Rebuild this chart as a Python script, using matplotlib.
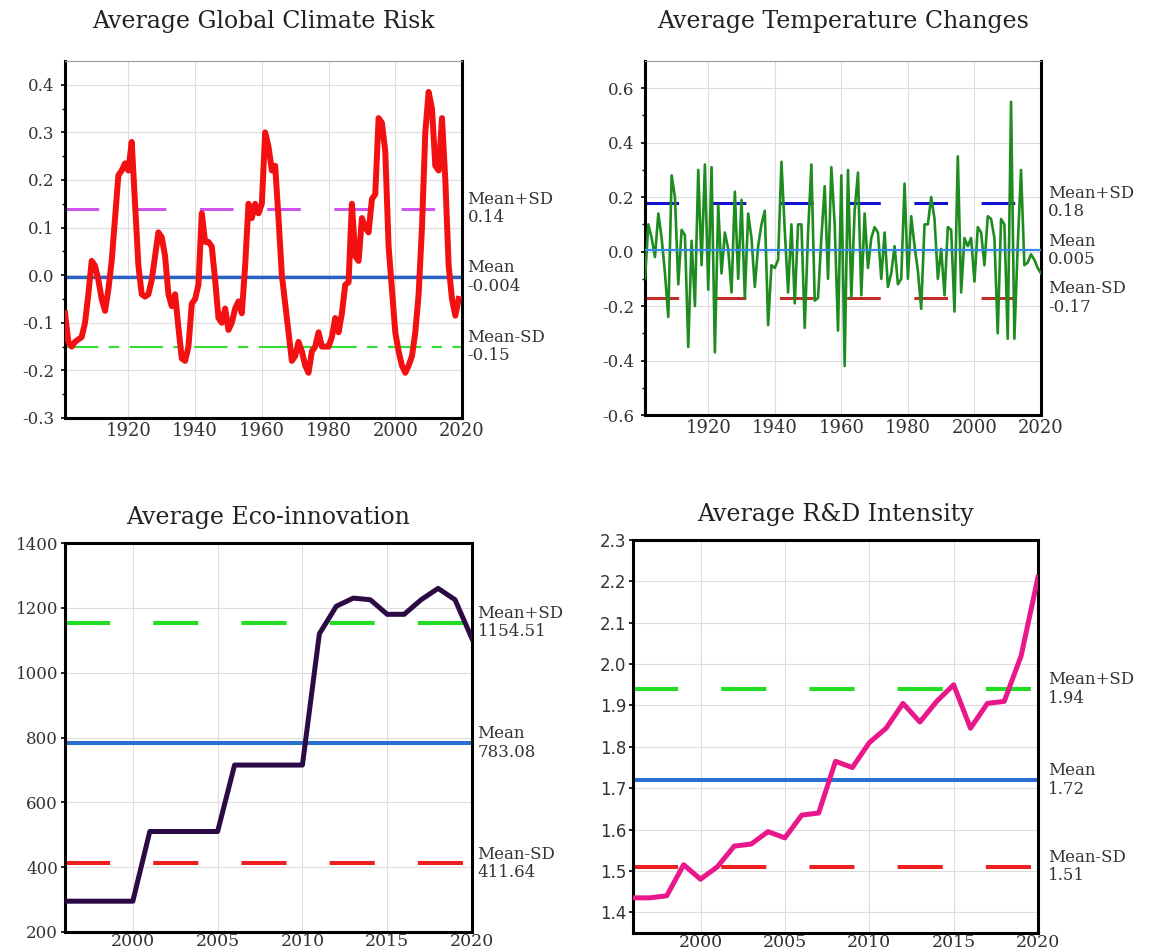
import numpy as np
import matplotlib
matplotlib.use("Agg")
import matplotlib.pyplot as plt

plt.rcParams["font.family"] = "DejaVu Serif"
plt.rcParams["axes.unicode_minus"] = False

# Average global climate risk, 1901-2019
risk_start = 1901
risk = [
    -0.08, -0.14, -0.15, -0.14, -0.135, -0.13, -0.10, -0.04, 0.03, 0.02,
    -0.01, -0.05, -0.075, -0.03, 0.03, 0.12, 0.21, 0.22, 0.235, 0.22,
    0.28, 0.15, 0.02, -0.04, -0.045, -0.04, -0.01, 0.04, 0.09, 0.08,
    0.04, -0.04, -0.065, -0.04, -0.11, -0.175, -0.18, -0.15, -0.06, -0.05,
    -0.02, 0.13, 0.07, 0.07, 0.06, -0.01, -0.09, -0.10, -0.07, -0.115,
    -0.10, -0.07, -0.055, -0.08, 0.02, 0.15, 0.12, 0.15, 0.13, 0.15,
    0.30, 0.27, 0.22, 0.23, 0.12, 0.0, -0.06, -0.12, -0.18, -0.17,
    -0.14, -0.16, -0.19, -0.205, -0.16, -0.15, -0.12, -0.15, -0.15, -0.15,
    -0.13, -0.09, -0.12, -0.08, -0.02, -0.015, 0.15, 0.04, 0.03, 0.12,
    0.10, 0.09, 0.16, 0.17, 0.33, 0.32, 0.26, 0.06, -0.03, -0.12,
    -0.16, -0.19, -0.205, -0.19, -0.17, -0.12, -0.04, 0.10, 0.30, 0.385,
    0.35, 0.23, 0.22, 0.33, 0.20, 0.02, -0.05, -0.085, -0.05,
]
risk_stats = {"Mean+SD": 0.14, "Mean": -0.004, "Mean-SD": -0.15}
risk_labels = ["0.14", "-0.004", "-0.15"]

# Average temperature changes, 1901-2020
temp_start = 1901
temp = [
    -0.10, 0.10, 0.05, -0.02, 0.14, 0.05, -0.08, -0.24, 0.28, 0.20,
    -0.12, 0.08, 0.06, -0.35, 0.04, -0.20, 0.30, -0.05, 0.32, -0.14,
    0.31, -0.37, 0.17, -0.08, 0.07, 0.01, -0.15, 0.22, -0.10, 0.19,
    -0.17, 0.14, 0.05, -0.13, 0.02, 0.10, 0.15, -0.27, -0.05, -0.06,
    -0.03, 0.33, 0.08, -0.15, 0.10, -0.19, 0.10, 0.10, -0.28, 0.07,
    0.32, -0.18, -0.17, 0.05, 0.24, -0.10, 0.31, 0.10, -0.29, 0.28,
    -0.42, 0.30, -0.17, 0.15, 0.29, -0.16, 0.14, -0.06, 0.05, 0.09,
    0.07, -0.10, 0.07, -0.13, -0.08, 0.02, -0.12, -0.10, 0.25, -0.10,
    0.13, 0.02, -0.07, -0.21, 0.10, 0.10, 0.20, 0.12, -0.10, 0.01,
    -0.16, 0.09, 0.08, -0.22, 0.35, -0.15, 0.05, 0.02, 0.05, -0.11,
    0.09, 0.07, -0.05, 0.13, 0.12, 0.05, -0.30, 0.12, 0.10, -0.32,
    0.55, -0.32, 0.02, 0.30, -0.05, -0.04, -0.01, -0.03, -0.06, -0.08,
]
temp_stats = {"Mean+SD": 0.18, "Mean": 0.005, "Mean-SD": -0.17}
temp_labels = ["0.18", "0.005", "-0.17"]

# Eco-innovation and R&D intensity, 1996-2020
years_short = list(range(1996, 2021))
eco = [295, 295, 295, 295, 295, 510, 510, 510, 510, 510,
       715, 715, 715, 715, 715, 1120, 1205, 1230, 1225, 1180,
       1180, 1225, 1260, 1225, 1105]
eco_stats = {"Mean+SD": 1154.51, "Mean": 783.08, "Mean-SD": 411.64}
eco_labels = ["1154.51", "783.08", "411.64"]

rnd = [1.435, 1.435, 1.44, 1.515, 1.48, 1.51, 1.56, 1.565, 1.595, 1.58,
       1.635, 1.64, 1.765, 1.75, 1.81, 1.845, 1.905, 1.86, 1.91, 1.95,
       1.845, 1.905, 1.91, 2.02, 2.21]
rnd_stats = {"Mean+SD": 1.94, "Mean": 1.72, "Mean-SD": 1.51}
rnd_labels = ["1.94", "1.72", "1.51"]

W, H = 1151, 951
fig = plt.figure(figsize=(W / 100, H / 100), dpi=100)


def make_axes(left, right, top, bottom):
    return fig.add_axes([left / W, 1 - bottom / H, (right - left) / W, (bottom - top) / H])


def style(ax, top_spine=True):
    for side in ["left", "right", "bottom"]:
        ax.spines[side].set_linewidth(2.2)
        ax.spines[side].set_color("black")
    if top_spine:
        ax.spines["top"].set_linewidth(2.2)
    else:
        ax.spines["top"].set_linewidth(0.8)
        ax.spines["top"].set_color("#999999")
    ax.grid(True, color="#dddddd", linewidth=0.8)
    ax.set_axisbelow(True)
    ax.tick_params(axis="y", direction="out", length=3, width=1.2, labelsize=12, pad=2,
                   labelcolor="#333333")
    ax.tick_params(axis="y", which="minor", direction="out", length=2, width=1.0)
    ax.tick_params(axis="x", length=0, labelsize=13, pad=3, labelcolor="#333333")


def side_labels(ax, stats, labels, offset):
    for (name, val), txt in zip(stats.items(), labels):
        ax.annotate(name + "\n" + txt, xy=(1, val), xycoords=("axes fraction", "data"),
                    xytext=(offset, 0), textcoords="offset points",
                    ha="left", va="center", fontsize=12, linespacing=1.1,
                    color="#333333", annotation_clip=False)


# Top left: climate risk
ax1 = make_axes(65, 462, 61, 418)
x1 = np.arange(risk_start, risk_start + len(risk))
ax1.plot(x1, risk, color="#f21010", lw=4.3, zorder=3)
ax1.axhline(risk_stats["Mean+SD"], color="#cc55ee", lw=2.2, linestyle=(0, (11, 11)), zorder=2)
ax1.axhline(risk_stats["Mean"], color="#2a62c9", lw=2.4, zorder=2)
ax1.axhline(risk_stats["Mean-SD"], color="#33dd33", lw=1.5, linestyle=(0, (16, 5, 5, 5)), zorder=2)
ax1.set_xlim(1901, 2020)
ax1.set_ylim(-0.3, 0.45)
ax1.set_xticks(np.arange(1920, 2021, 20))
ax1.set_yticks(np.arange(-0.3, 0.41, 0.1))
ax1.set_yticks(np.arange(-0.25, 0.45, 0.1), minor=True)
ax1.yaxis.set_major_formatter(matplotlib.ticker.FormatStrFormatter("%.1f"))
style(ax1, top_spine=False)
ax1.tick_params(axis="y", pad=5)
ax1.set_title("Average Global Climate Risk", fontsize=17, pad=24, color="#222222")
side_labels(ax1, risk_stats, risk_labels, 4)

# Top right: temperature changes
ax2 = make_axes(645, 1041, 61, 415)
x2 = np.arange(temp_start, temp_start + len(temp))
ax2.plot(x2, temp, color="#1e8c1e", lw=1.9, zorder=3)
ax2.axhline(temp_stats["Mean+SD"], color="#1010d0", lw=2.2, linestyle=(0, (11, 11)), zorder=2)
ax2.axhline(temp_stats["Mean"], color="#3388ee", lw=1.6, zorder=4)
ax2.axhline(temp_stats["Mean-SD"], color="#c42b2b", lw=2.2, linestyle=(0, (11, 11)), zorder=2)
ax2.set_xlim(1901, 2020)
ax2.set_ylim(-0.6, 0.7)
ax2.set_xticks(np.arange(1920, 2021, 20))
ax2.set_yticks(np.arange(-0.6, 0.61, 0.2))
ax2.set_yticks(np.arange(-0.5, 0.7, 0.2), minor=True)
ax2.yaxis.set_major_formatter(matplotlib.ticker.FormatStrFormatter("%.1f"))
style(ax2, top_spine=False)
ax2.tick_params(axis="y", pad=5)
ax2.set_title("Average Temperature Changes", fontsize=17, pad=24, color="#222222")
side_labels(ax2, temp_stats, temp_labels, 5)

# Bottom left: eco-innovation
ax3 = make_axes(65, 472, 543, 932)
ax3.plot(years_short, eco, color="#2b0a45", lw=3.6, zorder=3)
ax3.axhline(eco_stats["Mean+SD"], color="#22dd22", lw=2.9, linestyle=(0, (11.2, 10.7)), zorder=2)
ax3.axhline(eco_stats["Mean"], color="#2a6fd0", lw=2.9, zorder=2)
ax3.axhline(eco_stats["Mean-SD"], color="#ee2020", lw=2.9, linestyle=(0, (11.2, 10.7)), zorder=2)
ax3.set_xlim(1996, 2020)
ax3.set_ylim(200, 1400)
ax3.set_xticks(np.arange(2000, 2021, 5))
ax3.set_yticks(np.arange(200, 1401, 200))
style(ax3)
ax3.tick_params(axis="x", pad=0.5, labelsize=12.5)
ax3.set_title("Average Eco-innovation", fontsize=17, pad=14, color="#222222")
side_labels(ax3, eco_stats, eco_labels, 4)

# Bottom right: R&D intensity
ax4 = make_axes(633, 1038, 540, 933)
ax4.plot(years_short, rnd, color="#e8178a", lw=3.6, zorder=3)
ax4.axhline(rnd_stats["Mean+SD"], color="#22dd22", lw=2.9, linestyle=(0, (11.2, 10.7)), zorder=2)
ax4.axhline(rnd_stats["Mean"], color="#2a6fd0", lw=2.9, zorder=2)
ax4.axhline(rnd_stats["Mean-SD"], color="#ee2020", lw=2.9, linestyle=(0, (11.2, 10.7)), zorder=2)
ax4.set_xlim(1996, 2020)
ax4.set_ylim(1.35, 2.3)
ax4.set_xticks(np.arange(2000, 2021, 5))
ax4.set_yticks(np.arange(1.4, 2.31, 0.1))
ax4.yaxis.set_major_formatter(matplotlib.ticker.FormatStrFormatter("%.1f"))
style(ax4)
ax4.tick_params(axis="x", pad=0.5, labelsize=12.5)
for lab in ax4.get_yticklabels():
    lab.set_family("DejaVu Sans")
ax4.set_title("Average R&D Intensity", fontsize=17, pad=14, color="#222222")
side_labels(ax4, rnd_stats, rnd_labels, 7)

fig.savefig("out.png", dpi=100)
